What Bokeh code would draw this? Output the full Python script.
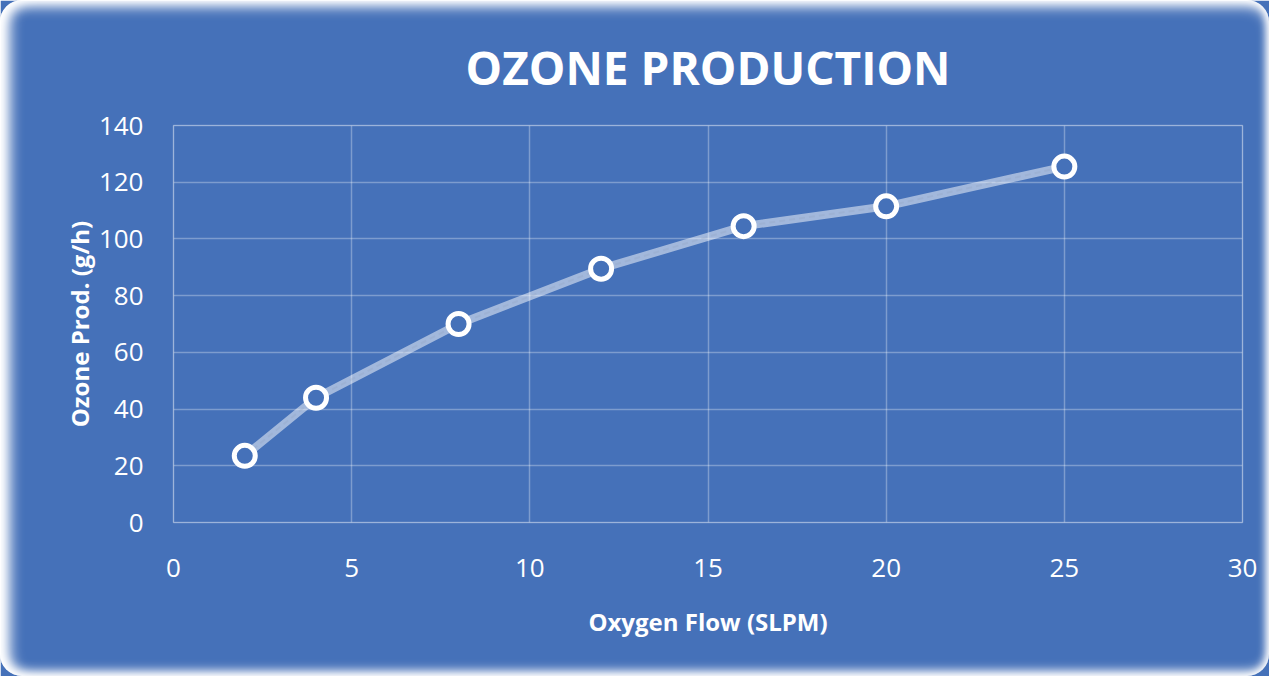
from bokeh.plotting import figure
from bokeh.models import Range1d, FixedTicker, InlineStyleSheet
from bokeh.embed import file_html
from bokeh.resources import INLINE

# Data
oxygen_flow = [2, 4, 8, 12, 16, 20, 25]
ozone_prod = [23.5, 44, 70, 89.5, 104.5, 111.5, 125.5]
x_ticks = [0, 5, 10, 15, 20, 25, 30]
y_ticks = [0, 20, 40, 60, 80, 100, 120, 140]

BG = "#4571B9"
FONT = "Open Sans"

edge = InlineStyleSheet(css="""
:host::after {
  content: "";
  position: absolute;
  left: 0; top: 0; right: 0; bottom: 0;
  pointer-events: none;
  border-radius: 22px;
  box-shadow: inset 12px 0 14px -2px white, inset 0 8px 14px -2px white,
              inset 0 -6px 12px -2px white, inset -3px 0 8px -2px white;
}
""")

p = figure(width=1269, height=676, output_backend="svg", toolbar_location=None,
           x_range=Range1d(0, 30), y_range=Range1d(0, 140),
           min_border_left=173, min_border_right=27, min_border_top=125, min_border_bottom=154,
           stylesheets=[edge])

p.background_fill_color = BG
p.border_fill_color = BG
p.outline_line_color = "white"
p.outline_line_alpha = 0.3
p.outline_line_width = 1.5

p.title.text = "OZONE PRODUCTION"
p.title.text_font = FONT
p.title.text_font_size = "46px"
p.title.text_font_style = "bold"
p.title.text_color = "white"
p.title.align = "center"
p.title.standoff = 55

for ax in (p.xaxis[0], p.yaxis[0]):
    ax.axis_line_color = None
    ax.major_tick_line_color = None
    ax.minor_tick_line_color = None
    ax.major_label_text_color = "white"
    ax.major_label_text_font = FONT
    ax.major_label_text_font_size = "26px"
    ax.axis_label_text_color = "white"
    ax.axis_label_text_font = FONT
    ax.axis_label_text_font_size = "24px"
    ax.axis_label_text_font_style = "bold"

p.xaxis.ticker = FixedTicker(ticks=x_ticks)
p.yaxis.ticker = FixedTicker(ticks=y_ticks)
p.xaxis.axis_label = "Oxygen Flow (SLPM)"
p.yaxis.axis_label = "Ozone Prod. (g/h)"
p.xaxis.major_label_standoff = 30
p.yaxis.major_label_standoff = 24
p.xaxis.axis_label_standoff = 25
p.yaxis.axis_label_standoff = 0

p.grid.grid_line_color = "white"
p.grid.grid_line_alpha = 0.3
p.grid.grid_line_width = 1.5

# faint shadow of the line
p.line(oxygen_flow, ozone_prod, line_color="#1F3F7A", line_alpha=0.25, line_width=2,
       line_dash="6 4")
p.line(oxygen_flow, ozone_prod, line_color="white", line_alpha=0.5, line_width=8)
p.scatter(oxygen_flow, ozone_prod, size=21, fill_color=BG, line_color="white", line_width=5)

open("out.html", "w").write(file_html(p, INLINE))
